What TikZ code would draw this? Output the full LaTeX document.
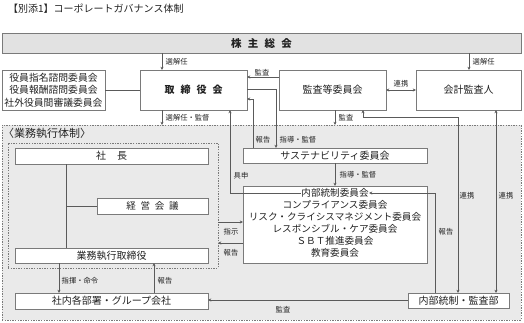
\documentclass[tikz,border=0pt]{standalone}
\usepackage{fontspec}
\setmainfont{Noto Sans CJK JP}
\usetikzlibrary{arrows.meta}
\definecolor{ln}{HTML}{5A5A5A}
\definecolor{bd}{HTML}{7A7A7A}
\definecolor{rg}{HTML}{EAEAEA}
\definecolor{hd}{HTML}{E2E2E2}
\definecolor{tx}{HTML}{222222}
\tikzset{
  box/.style={draw=bd, line width=0.8pt, fill=white, inner sep=0pt, outer sep=0pt, text=tx, font=\fontsize{10}{12.5}\selectfont, align=center},
  region/.style={draw=bd, line width=0.8pt, dash pattern=on 1.4pt off 1.2pt, fill=rg, inner sep=0pt, outer sep=0pt},
  conn/.style={draw=ln, line width=0.9pt},
  arr/.style={conn, -{Stealth[length=3.2pt,width=3pt]}},
  darr/.style={conn, {Stealth[length=3.2pt,width=3pt]}-{Stealth[length=3.2pt,width=3pt]}},
  lbl/.style={font=\fontsize{7.3}{8}\selectfont, text=tx, inner sep=0.5pt},
  cline/.style={font=\fontsize{9.6}{11}\selectfont, text=tx, inner sep=0.3pt}
}
\begin{document}
\begin{tikzpicture}[x=1pt,y=-1pt]
\useasboundingbox (0,0) rectangle (524,322);
% title
\node[anchor=west, font=\fontsize{10}{11}\selectfont, text=tx, inner sep=0pt] (title) at (8,9) {【別添1】コーポレートガバナンス体制};
% top boxes
\node[box, fill=hd, minimum width=519pt, minimum height=20pt, font=\fontsize{10.5}{12}\bfseries\selectfont] (sh) at (261.5,43) {株\hspace{0.6em}主\hspace{0.6em}総\hspace{0.6em}会};
\node[box, minimum width=107pt, minimum height=40pt, font=\fontsize{10}{12}\bfseries\selectfont] (brd) at (193.5,90) {取\hspace{0.6em}締\hspace{0.6em}役\hspace{0.6em}会};
\node[box, minimum width=103pt, minimum height=40pt, font=\fontsize{9.8}{12.3}\selectfont] (adv) at (53.5,90) {役員指名諮問委員会\\役員報酬諮問委員会\\社外役員間審議委員会};
\node[box, minimum width=107pt, minimum height=40pt] (audc) at (332.5,90) {監査等委員会};
\node[box, minimum width=105pt, minimum height=40pt] (acct) at (468.5,90) {会計監査人};
% regions
\node[region, minimum width=519pt, minimum height=195pt] (outer) at (261.5,222.5) {};
\node[anchor=west, font=\fontsize{11}{12}\selectfont, text=tx, inner sep=0pt] (otitle) at (3,133) {〈業務執行体制〉};
\node[region, minimum width=210pt, minimum height=125pt] (inner) at (113,205.5) {};
% execution boxes
\node[box, minimum width=193pt, minimum height=16pt] (pres) at (111.5,156) {社\hspace{1.1em}長};
\node[box, minimum width=111pt, minimum height=16pt, font=\fontsize{9.5}{11}\selectfont] (mgmt) at (152.5,206) {経\hspace{0.5em}営\hspace{0.5em}会\hspace{0.5em}議};
\node[box, minimum width=193pt, minimum height=15pt] (exec) at (111.5,255.5) {業務執行取締役};
\node[box, minimum width=193pt, minimum height=16pt] (dept) at (111.5,301) {社内各部署・グループ会社};
\node[box, minimum width=184pt, minimum height=15pt] (sus) at (335,155.5) {サステナビリティ委員会};
\node[box, minimum width=184pt, minimum height=77pt] (com) at (335,224.5) {};
\node[box, minimum width=101pt, minimum height=15pt] (aud) at (458.5,300.5) {内部統制・監査部};
% committee lines
\node[cline] (l1) at (335,193) {内部統制委員会};
\node[cline] (l2) at (335,205) {コンプライアンス委員会};
\node[cline] (l3) at (335,217) {リスク・クライシスマネジメント委員会};
\node[cline] (l4) at (335,229) {レスポンシブル・ケア委員会};
\node[cline] (l5) at (335,241) {ＳＢＴ推進委員会};
\node[cline] (l6) at (335,253) {教育委員会};
% helper coordinates
\coordinate (xa) at (162,0);
\coordinate (xb) at (469,0);
\coordinate (xg) at (230,0);
\coordinate (xr) at (253,0);
\coordinate (xs) at (276,0);
\coordinate (xm) at (335,0);
\coordinate (xi) at (435,0);
\coordinate (xl) at (496,0);
\coordinate (xd1) at (59,0);
\coordinate (xd2) at (154,0);
\coordinate (xp) at (66,0);
\coordinate (y77) at (0,77);
\coordinate (y89) at (0,89);
\coordinate (y99) at (0,99);
\coordinate (yshi) at (0,222);
\coordinate (yrep) at (0,243);
\coordinate (ydep) at (0,300);
\coordinate (ka) at (458,117);
\coordinate (kb) at (363,117);
\coordinate (sa) at (276,89);
\coordinate (ra) at (253,99);
\coordinate (pb) at (66,206);
% connectors
\draw[arr] (sh.south -| xa) -- (brd.north -| xa);
\node[lbl, anchor=west] (t1) at (165,62) {選解任};
\draw[arr] (sh.south -| xb) -- (acct.north -| xb);
\node[lbl, anchor=west] (t2) at (472,62) {選解任};
\draw[conn] (adv.east) -- (brd.west);
\draw[arr] (audc.west |- y77) -- (brd.east |- y77);
\node[lbl] (t3) at (262,72.5) {監査};
\draw[darr] (audc.east) -- (acct.west);
\node[lbl] (t4) at (401,84) {連携};
\draw[arr] (brd.east |- y89) -- (sa) -- (sus.north -| xs);
\node[lbl, anchor=west] (t5) at (279,140) {指導・監督};
\draw[arr] (sus.north -| xr) -- (ra) -- (brd.east |- y99);
\node[lbl] (t6) at (263,140) {報告};
\draw[arr] (brd.south -| xa) -- (outer.north -| xa);
\node[lbl, anchor=west] (t7) at (165,118) {選解任・監督};
\draw[arr] (audc.south -| xm) -- (outer.north -| xm);
\node[lbl, anchor=west] (t8) at (338,118) {監査};
\draw[darr] (aud.north -| ka) -- (ka) -- (kb) -- (audc.south -| kb);
\node[lbl] (t9) at (467,196) {連携};
\draw[darr] (acct.south -| xl) -- (aud.north -| xl);
\node[lbl] (t10) at (506,196) {連携};
\draw[arr] (sus.south) -- (com.north);
\node[lbl, anchor=west] (t11) at (339,175) {指導・監督};
\draw[arr] (l1.west) -| (brd.south -| xg);
\node[lbl, anchor=west] (t12) at (233,176) {具申};
\draw[arr] (aud.north -| xi) |- (l1.east);
\node[lbl] (t13) at (446,232) {報告};
\draw[arr] (inner.east |- yshi) -- (com.west |- yshi);
\node[lbl] (t14) at (231,232) {指示};
\draw[arr] (com.west |- yrep) -- (inner.east |- yrep);
\node[lbl] (t15) at (231,253) {報告};
\draw[conn] (pres.south -| xp) -- (exec.north -| xp);
\draw[conn] (pb) -- (mgmt.west);
\draw[arr] (exec.south -| xd1) -- (dept.north -| xd1);
\node[lbl, anchor=west] (t16) at (61,281) {指揮・命令};
\draw[arr] (dept.north -| xd2) -- (exec.south -| xd2);
\node[lbl, anchor=west] (t17) at (157,281) {報告};
\draw[arr] (aud.west |- ydep) -- (dept.east |- ydep);
\node[lbl] (t18) at (283,310) {監査};
\end{tikzpicture}
\end{document}
